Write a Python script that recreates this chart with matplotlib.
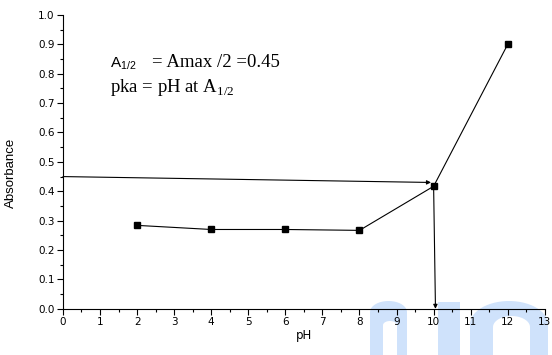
import numpy as np
import matplotlib
matplotlib.use("Agg")
import matplotlib.pyplot as plt
from matplotlib.ticker import MultipleLocator, FormatStrFormatter
from matplotlib.patches import Polygon

# data
ph = [2, 4, 6, 8, 10, 12]
absorbance = [0.284, 0.270, 0.270, 0.267, 0.417, 0.900]
half_abs = 0.45
pka = 10

plt.rcParams['font.family'] = ['Liberation Sans', 'DejaVu Sans']
plt.rcParams['mathtext.fontset'] = 'custom'
plt.rcParams['mathtext.rm'] = 'Liberation Serif'
plt.rcParams['mathtext.sf'] = 'Liberation Sans'

W, H = 552, 355
fig = plt.figure(figsize=(W / 100, H / 100), dpi=100)
ax = fig.add_axes([0.114, 0.130, 0.873, 0.828])
ax.set_facecolor('none')


# light blue watermark in the bottom right corner (pixel coords, y from top)
def arch(x0, x1, top, bottom, hole=None):
    t = np.linspace(np.pi, 0, 30)
    cx, rx = (x0 + x1) / 2, (x1 - x0) / 2
    ry = min(rx, bottom - top) * 0.6
    xs = list(cx + rx * np.cos(t))
    ys = list(top + ry - ry * np.sin(t))
    pts = [(x0, bottom)] + list(zip(xs, ys)) + [(x1, bottom)]
    if hole:
        h0, h1, htop = hole
        hc, hr = (h0 + h1) / 2, (h1 - h0) / 2
        hry = hr * 0.6
        pts += [(h1, bottom)] + list(zip(hc + hr * np.cos(t[::-1]),
                                         htop + hry - hry * np.sin(t[::-1]))) + [(h0, bottom)]
    return [(x / W, 1 - y / H) for x, y in pts]


wm = '#cfe2fb'
for shape in [arch(370, 407, 301, 356, (383, 397, 321)),
              [(438 / W, 1 - 356 / H), (438 / W, 1 - 302 / H),
               (460 / W, 1 - 302 / H), (460 / W, 1 - 356 / H)],
              arch(470, 548, 301, 356, (493, 530, 316))]:
    fig.patches.append(Polygon(shape, closed=True, transform=fig.transFigure,
                               facecolor=wm, edgecolor='none', zorder=-1))

ax.plot(ph, absorbance, color='black', lw=0.8, marker='s', ms=5,
        mfc='black', mec='black')

# arrows: from A1/2 on the y axis to the curve, then down to the pH axis
ax.annotate('', xy=(9.93, 0.43), xytext=(0, half_abs),
            arrowprops=dict(arrowstyle='-|>', color='black', lw=0.8,
                            mutation_scale=6, shrinkA=0, shrinkB=0))
ax.annotate('', xy=(pka + 0.05, 0.0), xytext=(pka, absorbance[4]),
            arrowprops=dict(arrowstyle='-|>', color='black', lw=0.8,
                            mutation_scale=6, shrinkA=0, shrinkB=0))

ax.set_xlim(0, 13)
ax.set_ylim(0, 1.0)
ax.xaxis.set_major_locator(MultipleLocator(1))
ax.xaxis.set_minor_locator(MultipleLocator(0.5))
ax.yaxis.set_major_locator(MultipleLocator(0.1))
ax.yaxis.set_minor_locator(MultipleLocator(0.05))
ax.yaxis.set_major_formatter(FormatStrFormatter('%.1f'))
ax.tick_params(which='major', direction='out', length=4, width=0.8, labelsize=7.5, pad=2)
ax.tick_params(which='minor', direction='out', length=2, width=0.8)
for lab in ax.get_xticklabels() + ax.get_yticklabels():
    lab.set_family('DejaVu Sans')
for s in ['top', 'right']:
    ax.spines[s].set_visible(False)
ax.spines['left'].set_linewidth(0.8)
ax.spines['bottom'].set_linewidth(0.8)

ax.set_xlabel('pH', fontsize=8.5, labelpad=1, family='DejaVu Sans')
ax.set_ylabel('Absorbance', fontsize=9.5)
ax.yaxis.set_label_coords(-0.095, 0.463)

ax.text(1.27, 0.823, r'$\mathsf{A}_{\mathsf{1/2}}$', fontsize=11, va='baseline', ha='left')
ax.text(2.40, 0.823, '= Amax /2 =0.45', fontsize=13.5, va='baseline', ha='left',
        family='Liberation Serif')
ax.text(1.27, 0.738, r'pka = pH at A$_{\mathrm{1/2}}$', fontsize=13.5, va='baseline',
        ha='left', family='Liberation Serif')

fig.savefig('out.png', dpi=100)
